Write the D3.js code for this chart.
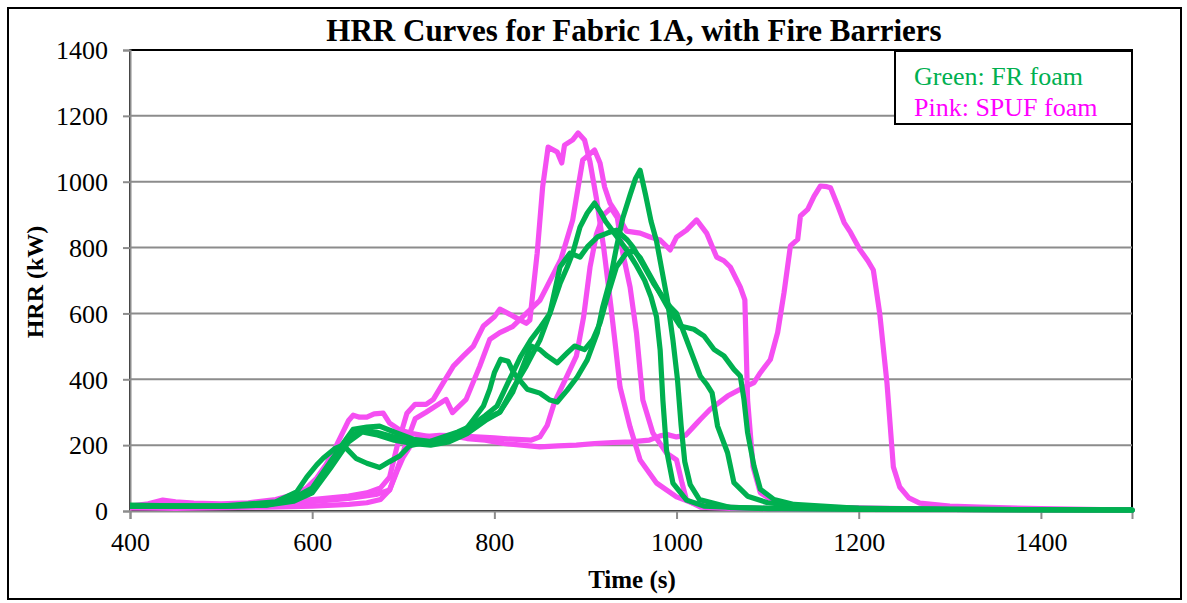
<!DOCTYPE html>
<html><head><meta charset="utf-8">
<script src="https://cdn.jsdelivr.net/npm/d3@7"></script>
<style>body{margin:0;background:#fff}svg{display:block}text{font-family:"Liberation Serif","Times New Roman",serif}</style>
</head><body><svg id="c" width="1187" height="603"></svg>
<script>
const xTicks=[400,600,800,1000,1200,1400];
const yTicks=[0,200,400,600,800,1000,1200,1400];
const legendLabels=["Green: FR foam","Pink: SPUF foam"];
// Pink: SPUF foam
const pink1=[[400,15],[420,22],[436,33],[450,28],[470,24],[500,22],[530,25],[560,35],[580,50],[594,70],[605,100],[615,140],[625,190],[632,230],[640,275],[645,291],[652,285],[660,285],[668,295],[678,297],[685,267],[696,246],[710,235],[730,225],[750,230],[770,220],[790,215],[810,205],[830,200],[850,195],[870,198],[890,200],[910,205],[930,208],[950,210],[970,215],[982,228],[990,232],[1000,225],[1010,230],[1020,260],[1026,278],[1037,309],[1056,349],[1070,370],[1085,390],[1092,420],[1103,460],[1111,542],[1118,663],[1125,805],[1133,825],[1136,896],[1144,916],[1151,956],[1158,987],[1165,985],[1169,982],[1177,927],[1184,876],[1191,846],[1201,795],[1210,760],[1216,732],[1223,601],[1231,389],[1238,134],[1245,73],[1255,40],[1267,24],[1300,15],[1333,12],[1400,7],[1450,5],[1500,3]];
const pink2=[[400,10],[450,8],[500,10],[550,12],[600,15],[640,20],[660,25],[675,35],[685,64],[693,120],[700,164],[707,194],[711,216],[720,225],[740,230],[760,228],[780,225],[800,222],[820,218],[840,215],[850,225],[858,260],[866,330],[878,400],[890,470],[898,590],[905,740],[912,840],[920,900],[928,920],[935,890],[941,783],[949,680],[956,541],[963,337],[974,237],[989,176],[1000,155],[1006,85],[1011,33],[1026,12],[1060,8],[1200,5],[1500,3]];
const pink3=[[400,12],[450,15],[500,18],[550,25],[600,35],[640,45],[660,55],[675,70],[685,103],[693,194],[704,297],[713,324],[725,324],[733,339],[744,390],[755,440],[766,471],[777,501],[788,562],[800,590],[806,613],[815,600],[825,585],[835,570],[839,580],[847,783],[853,984],[859,1105],[869,1090],[874,1057],[877,1111],[886,1127],[892,1148],[899,1127],[905,1060],[912,950],[920,800],[928,620],[933,500],[938,376],[949,255],[960,155],[978,85],[1000,43],[1018,24],[1050,12],[1100,8],[1500,3]];
const pink4=[[400,10],[450,12],[500,15],[550,20],[600,28],[640,38],[670,50],[685,64],[695,140],[705,220],[713,280],[725,300],[747,339],[754,299],[769,339],[784,440],[795,521],[806,542],[820,560],[835,600],[850,640],[858,683],[873,764],[886,884],[892,984],[897,1066],[903,1080],[910,1096],[916,1057],[921,984],[927,935],[934,905],[945,850],[960,844],[971,832],[982,823],[993,793],[1000,832],[1011,853],[1022,884],[1033,844],[1044,771],[1052,760],[1059,741],[1070,680],[1075,641],[1078,337],[1084,134],[1092,55],[1110,24],[1150,12],[1300,5],[1500,3]];
// Green: FR foam
const green1=[[400,15],[450,15],[500,14],[550,18],[580,35],[600,60],[615,120],[630,190],[645,248],[660,255],[674,258],[690,240],[711,218],[740,208],[755,228],[766,238],[777,278],[788,319],[795,370],[800,420],[807,461],[815,455],[821,420],[836,370],[850,358],[861,337],[869,331],[880,367],[891,407],[902,459],[913,541],[919,620],[927,701],[934,800],[941,890],[949,960],[955,1010],[960,1035],[966,960],[972,880],[978,820],[984,730],[990,640],[996,520],[1001,400],[1005,260],[1009,150],[1015,80],[1025,35],[1060,10],[1200,5],[1500,3]];
const green2=[[400,18],[450,16],[500,15],[550,20],[580,40],[600,70],[620,150],[640,225],[655,245],[670,240],[690,225],[710,210],[730,205],[750,215],[774,258],[790,290],[803,319],[815,390],[829,470],[840,520],[851,560],[861,600],[872,690],[880,741],[886,783],[894,862],[902,905],[910,935],[916,910],[922,880],[930,850],[938,820],[946,790],[955,750],[965,700],[972,650],[978,590],[982,489],[985,337],[989,185],[996,85],[1011,33],[1030,15],[1100,7],[1500,3]];
const green3=[[400,14],[450,14],[500,15],[550,18],[580,30],[600,55],[620,130],[640,210],[655,240],[670,232],[690,215],[710,205],[730,200],[750,210],[770,235],[792,278],[806,300],[820,370],[835,440],[850,519],[861,601],[872,741],[883,783],[894,771],[902,802],[913,832],[924,844],[934,853],[946,823],[952,802],[965,740],[975,690],[985,650],[993,620],[1000,600],[1008,542],[1019,461],[1026,410],[1033,385],[1039,359],[1045,258],[1056,177],[1063,86],[1078,45],[1100,25],[1150,10],[1300,5],[1500,3]];
const green4=[[400,15],[450,15],[500,15],[560,28],[583,58],[594,103],[605,140],[612,160],[625,190],[634,200],[648,160],[660,145],[674,132],[685,150],[696,167],[707,198],[730,212],[760,240],[774,258],[790,280],[806,300],[820,360],[830,430],[840,501],[850,490],[858,471],[869,450],[880,480],[888,501],[899,490],[908,520],[916,571],[925,660],[934,741],[944,780],[952,793],[960,770],[970,720],[980,670],[990,620],[1004,562],[1019,552],[1030,532],[1041,491],[1052,471],[1063,430],[1070,410],[1074,339],[1078,238],[1085,137],[1092,66],[1107,35],[1129,20],[1200,8],[1300,5],[1500,3]];

const pinkSeries=[pink1,pink2,pink3,pink4];
const greenSeries=[green1,green2,green3,green4];

const svg=d3.select("#c");
const x=d3.scaleLinear().domain([400,1500]).range([130,1132]);
const y=d3.scaleLinear().domain([0,1400]).range([511,50]);

svg.append("rect").attr("x",8).attr("y",8).attr("width",1173).attr("height",591).attr("fill","#fff").attr("stroke","#000").attr("stroke-width",2);
svg.append("rect").attr("x",x(400)).attr("y",y(1400)).attr("width",x(1500)-x(400)).attr("height",y(0)-y(1400)).attr("fill","none").attr("stroke","#000").attr("stroke-width",2);

svg.append("g").selectAll("line").data(yTicks.filter(d=>d>0&&d<1400)).join("line")
 .attr("x1",x(400)).attr("x2",x(1500)).attr("y1",d=>y(d)).attr("y2",d=>y(d))
 .attr("stroke","#8c8c8c").attr("stroke-width",2);

const ya=svg.append("g").attr("transform",`translate(${x(400)},0)`)
 .call(d3.axisLeft(y).tickValues(yTicks).tickSize(7).tickPadding(15).tickFormat(d3.format("d")));
ya.select(".domain").attr("stroke","#8c8c8c").attr("stroke-width",2);
ya.selectAll(".tick line").attr("stroke","#8c8c8c").attr("stroke-width",2);
ya.selectAll(".tick text").attr("font-size",26).attr("fill","#000").attr("font-family","Liberation Serif").attr("dy","0.34em");

const xa=svg.append("g").attr("transform",`translate(0,${y(0)})`)
 .call(d3.axisBottom(x).tickValues(xTicks).tickSize(8).tickPadding(14).tickFormat(d3.format("d")));
xa.select(".domain").attr("stroke","#8c8c8c").attr("stroke-width",2);
xa.selectAll(".tick line").attr("stroke","#8c8c8c").attr("stroke-width",2);
xa.selectAll(".tick text").attr("font-size",26).attr("fill","#000").attr("font-family","Liberation Serif");

svg.append("clipPath").attr("id","pc").append("rect").attr("x",x(400)).attr("y",y(1400)-5).attr("width",x(1500)-x(400)+3).attr("height",y(0)-y(1400)+8);

const line=d3.line().x(d=>x(d[0])).y(d=>y(d[1]));
const gl=svg.append("g").attr("clip-path","url(#pc)");
gl.selectAll("path.p").data(pinkSeries).join("path").attr("class","p")
 .attr("d",line).attr("fill","none").attr("stroke","#F54FF2").attr("stroke-width",5.2).attr("stroke-linejoin","round").attr("stroke-linecap","round");
gl.selectAll("path.g").data(greenSeries).join("path").attr("class","g")
 .attr("d",line).attr("fill","none").attr("stroke","#00B050").attr("stroke-width",5.2).attr("stroke-linejoin","round").attr("stroke-linecap","round");

svg.append("text").attr("x",634).attr("y",41).attr("text-anchor","middle").attr("font-size",31).attr("font-weight","bold").text("HRR Curves for Fabric 1A, with Fire Barriers");
svg.append("text").attr("x",632).attr("y",588).attr("text-anchor","middle").attr("font-size",25).attr("font-weight","bold").text("Time (s)");
svg.append("text").attr("transform","translate(43,282) rotate(-90)").attr("text-anchor","middle").attr("font-size",24).attr("font-weight","bold").text("HRR (kW)");

svg.append("rect").attr("x",895).attr("y",51).attr("width",237).attr("height",73).attr("fill","#fff").attr("stroke","#000").attr("stroke-width",2);
const legColors=["#00B050","#FF00FF"];
svg.selectAll("text.leg").data(legendLabels).join("text").attr("class","leg")
 .attr("x",914).attr("y",(d,i)=>85+i*31).attr("font-size",26).attr("fill",(d,i)=>legColors[i]).text(d=>d);
</script></body></html>
